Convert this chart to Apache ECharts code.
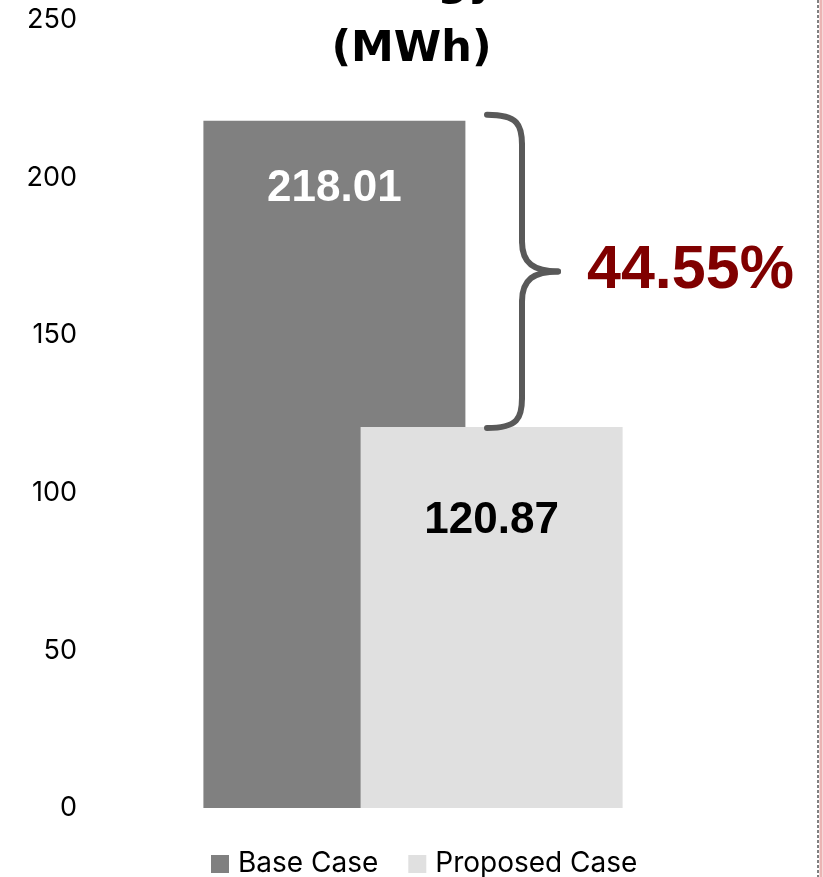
<!DOCTYPE html>
<html>
<head>
<meta charset="utf-8">
<title>Energy (MWh)</title>
<script src="https://cdn.jsdelivr.net/npm/echarts@6/dist/echarts.min.js"></script>
<style>
  html, body { margin: 0; padding: 0; background: #ffffff; }
  #chart { width: 823px; height: 877px; }
</style>
</head>
<body>
<div id="chart"></div>
<script>
// Annual energy use, base vs proposed design
const categories = ['Energy'];
const seriesNames = ['Base Case', 'Proposed Case'];
const baseCase = [218.01];
const proposedCase = [120.87];
const savingsLabel = '44.55%';
const yTicks = { min: 0, max: 250, interval: 50 };

const chart = echarts.init(document.getElementById('chart'));

const option = {
  backgroundColor: '#ffffff',
  animation: false,
  title: {
    text: 'Energy\n(MWh)',
    left: 'center',
    top: -54,
    textStyle: {
      fontFamily: 'DejaVu Sans',
      fontWeight: 'bold',
      fontSize: 43,
      lineHeight: 66,
      color: '#000000'
    }
  },
  legend: {
    bottom: -6,
    left: 206,
    itemWidth: 18,
    itemHeight: 18,
    itemGap: 30,
    icon: 'rect',
    textStyle: { fontFamily: 'Inter', fontSize: 28, color: '#000000', padding: [0, 0, 0, 4] },
    data: seriesNames
  },
  grid: { left: 100, width: 626, top: 20, bottom: 69 },
  xAxis: {
    type: 'category',
    data: categories,
    axisLine: { show: false },
    axisTick: { show: false },
    axisLabel: { show: false }
  },
  yAxis: {
    type: 'value',
    min: yTicks.min,
    max: yTicks.max,
    interval: yTicks.interval,
    axisLine: { show: false },
    axisTick: { show: false },
    splitLine: { show: false },
    axisLabel: {
      fontFamily: 'Inter',
      fontSize: 27,
      color: '#000000',
      margin: 23
    }
  },
  series: [
    {
      name: seriesNames[0],
      type: 'bar',
      data: baseCase,
      barWidth: 262,
      barGap: '-40%',
      itemStyle: { color: '#808080' },
      label: {
        show: true,
        position: 'insideTop',
        distance: 46,
        formatter: p => p.value.toFixed(2),
        fontFamily: 'Liberation Sans',
        fontWeight: 'bold',
        fontSize: 44,
        color: '#ffffff'
      }
    },
    {
      name: seriesNames[1],
      type: 'bar',
      data: proposedCase,
      barWidth: 262,
      itemStyle: { color: '#e0e0e0' },
      label: {
        show: true,
        position: 'insideTop',
        distance: 72,
        formatter: p => p.value.toFixed(2),
        fontFamily: 'Liberation Sans',
        fontWeight: 'bold',
        fontSize: 44,
        color: '#000000'
      }
    }
  ]
};

chart.setOption(option);

// Brace spanning the two bar heights, with the savings percentage beside it
const cx = chart.convertToPixel({ xAxisIndex: 0 }, categories[0]);
const yTop = chart.convertToPixel({ yAxisIndex: 0 }, baseCase[0]) - 6;
const yBot = chart.convertToPixel({ yAxisIndex: 0 }, proposedCase[0]) + 1;
const yMid = (yTop + yBot) / 2;
const x0 = cx + 74;   // open ends of the brace
const x1 = cx + 109;  // vertical stroke
const x2 = cx + 145;  // tip
const r = 30;

const braceStyle = { fill: 'none', stroke: '#595959', lineWidth: 6, lineCap: 'round' };
const curve = (sx, sy, c1x, c1y, c2x, c2y, ex, ey) => ({
  type: 'bezierCurve',
  shape: { x1: sx, y1: sy, cpx1: c1x, cpy1: c1y, cpx2: c2x, cpy2: c2y, x2: ex, y2: ey },
  style: braceStyle,
  z: 10
});
const seg = (sx, sy, ex, ey) => ({
  type: 'line',
  shape: { x1: sx, y1: sy, x2: ex, y2: ey },
  style: braceStyle,
  z: 10
});

chart.setOption({
  graphic: [
    curve(x0, yTop, x1 - 4, yTop, x1, yTop + 10, x1, yTop + r),
    seg(x1, yTop + r, x1, yMid - r),
    curve(x1, yMid - r, x1, yMid - 8, x1 + 12, yMid, x2, yMid),
    curve(x2, yMid, x1 + 12, yMid, x1, yMid + 8, x1, yMid + r),
    seg(x1, yMid + r, x1, yBot - r),
    curve(x1, yBot - r, x1, yBot - 10, x1 - 4, yBot, x0, yBot),
    {
      type: 'text',
      x: x2 + 29,
      y: yMid,
      style: {
        text: savingsLabel,
        font: 'bold 61px "Liberation Sans"',
        fill: '#800000',
        verticalAlign: 'middle',
        align: 'left'
      },
      z: 10
    },
    {
      type: 'line',
      shape: { x1: 818, y1: 0, x2: 818, y2: 877 },
      style: { stroke: '#000000', lineWidth: 1, lineDash: [3, 2] }
    },
    {
      type: 'line',
      shape: { x1: 821, y1: 0, x2: 821, y2: 877 },
      style: { stroke: '#ebb4b4', lineWidth: 3 }
    }
  ]
});
</script>
</body>
</html>
